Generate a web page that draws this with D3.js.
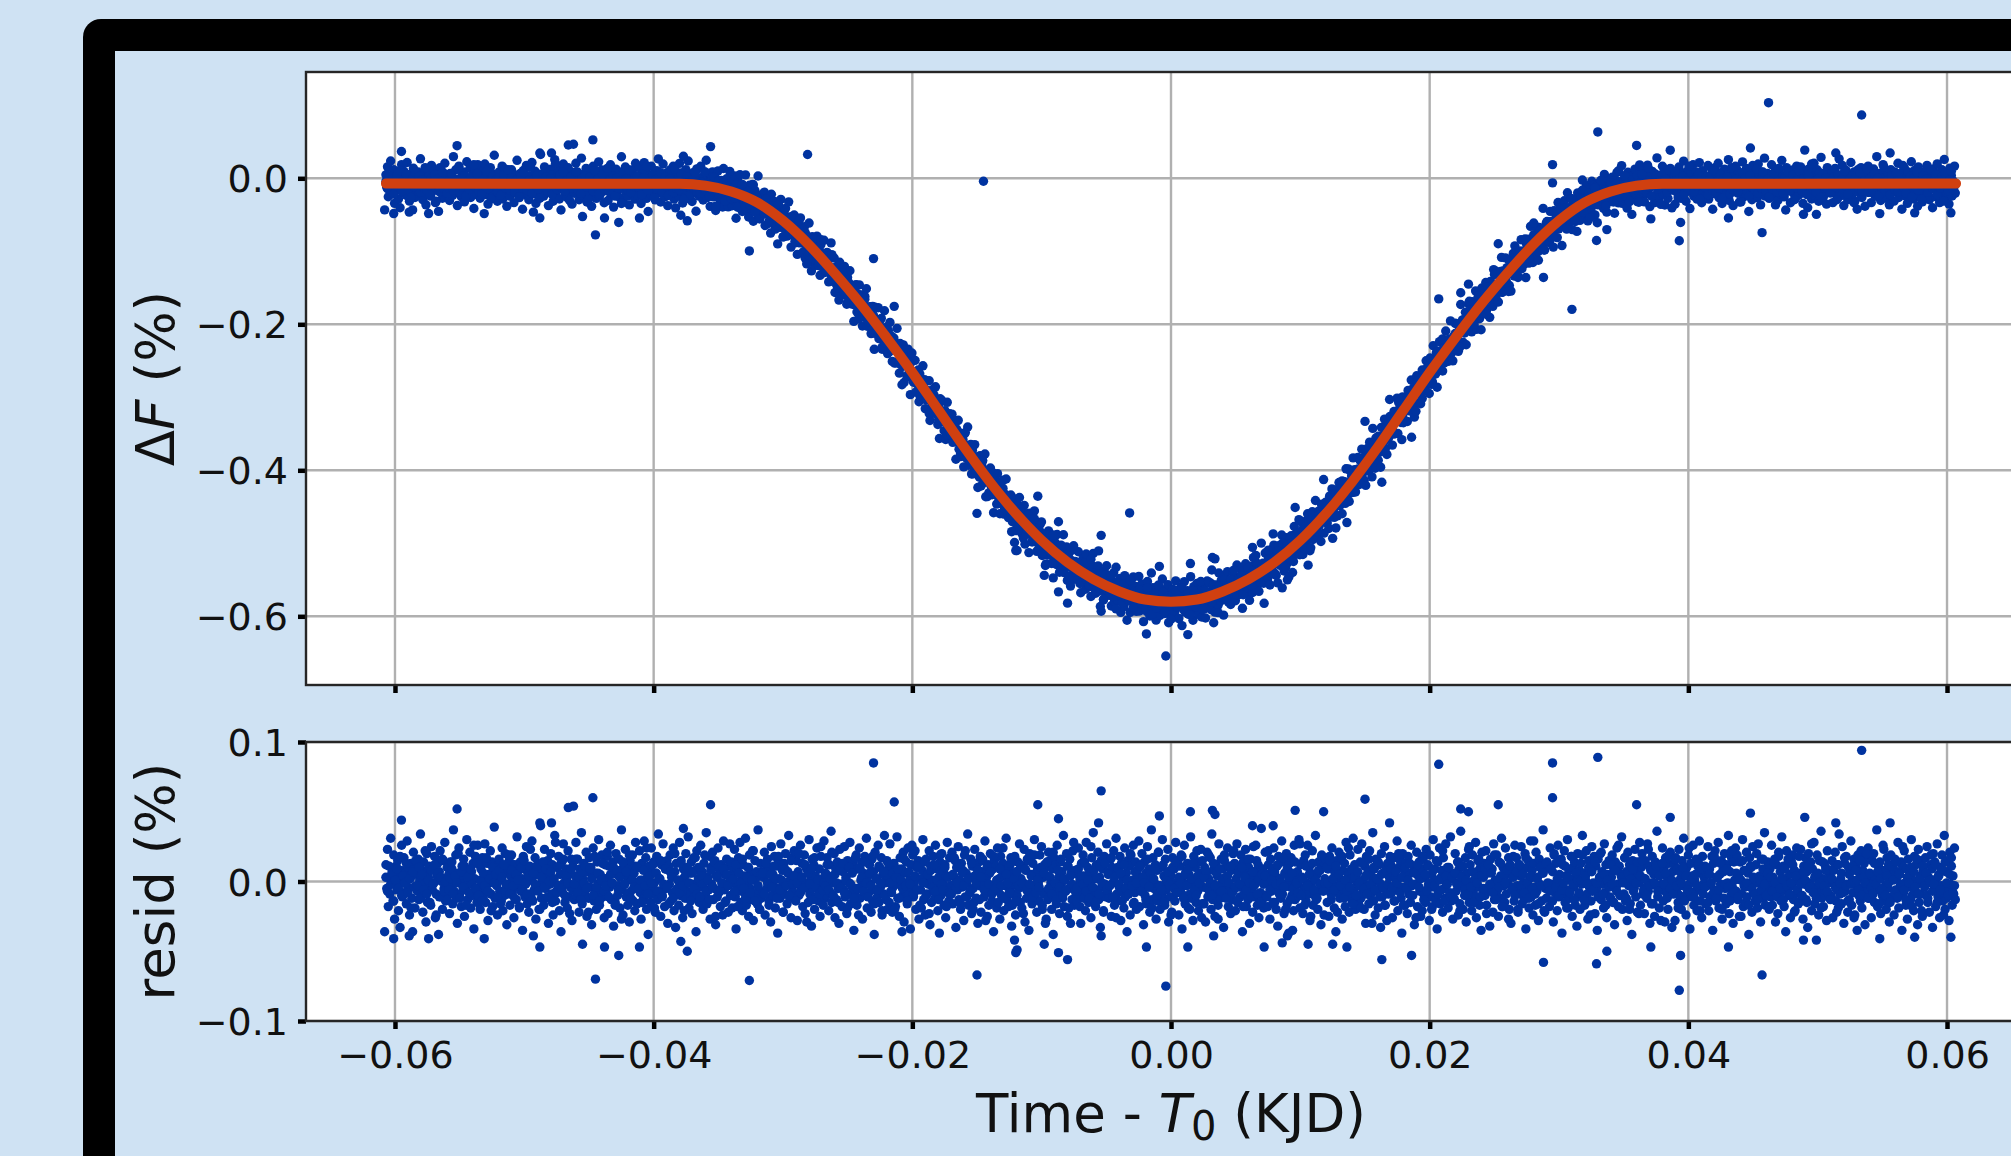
<!DOCTYPE html>
<html>
<head>
<meta charset="UTF-8"/>
<style>
  body { margin: 0; background: #cfe2f3; }
  svg { display: block; }
</style>
</head>
<body>
<script src="https://d3js.org/d3.v7.min.js"></script>
<script>
// ---- data ----
// x ticks (KJD from T0), y ticks of both panels
const xTicks = [-0.06, -0.04, -0.02, 0.00, 0.02, 0.04, 0.06];
const fluxTicks = [0.0, -0.2, -0.4, -0.6];
const residTicks = [0.1, 0.0, -0.1];

// fitted transit model (%)
const modelTime = [-0.0607, -0.038, -0.036, -0.034, -0.032, -0.030, -0.028, -0.026, -0.024, -0.022,
  -0.020, -0.018, -0.016, -0.014, -0.012, -0.010, -0.008, -0.006, -0.004, -0.002, 0.000,
  0.002, 0.004, 0.006, 0.008, 0.010, 0.012, 0.014, 0.016, 0.018, 0.020,
  0.022, 0.024, 0.026, 0.028, 0.030, 0.032, 0.034, 0.036, 0.038, 0.0607];
const modelFlux = [-0.0073, -0.0075, -0.010, -0.018, -0.033, -0.058, -0.091, -0.130, -0.172, -0.218,
  -0.266, -0.317, -0.368, -0.416, -0.459, -0.496, -0.526, -0.549, -0.566, -0.577, -0.580,
  -0.577, -0.566, -0.549, -0.526, -0.496, -0.459, -0.416, -0.368, -0.317, -0.266,
  -0.218, -0.172, -0.130, -0.091, -0.058, -0.033, -0.018, -0.010, -0.0075, -0.0073];

// residuals of two folded sets of regular-cadence samples, in units of 0.001 %
const tFirst = -0.0607;
const cadenceA = 0.0000607;
const residA = [
12,-5,23,-18,3,-9,31,-2,7,-14,19,-27,0,11,-6,15,-21,4,-33,8,26,-11,-1,17,-8,6,-16,29,-4,10,-24,2,13,-12,-36,21,5,-19,9,-3,
-7,16,-13,1,34,-10,8,-22,14,-2,6,-29,20,-15,3,11,-4,-17,25,-6,9,-1,18,-26,-9,4,13,-38,7,22,-11,0,-20,15,-5,28,-14,2,10,-8,
5,-23,14,-3,9,-16,37,-7,1,19,-12,-30,6,24,-9,3,-18,11,-2,16,-25,8,-6,30,-13,4,-1,21,-19,7,-10,13,-34,2,18,-5,-15,26,-8,12,
-20,9,-4,17,-11,2,27,-15,-6,13,-28,5,-1,22,-9,14,-18,3,39,-12,7,-3,-24,11,16,-7,1,-14,24,-21,6,-10,20,-2,-31,10,-5,15,-17,4,
19,-8,0,-26,12,5,-13,32,-4,8,-19,14,-7,2,-35,18,9,-11,-2,25,-16,6,-22,11,1,-9,29,-14,4,-6,17,-27,10,-3,13,-20,7,40,-12,-1,
8,-17,23,-5,-12,3,15,-30,6,-2,20,-9,12,-24,1,33,-14,-7,10,-3,18,-21,5,-36,14,-8,27,-1,-15,9,2,-19,22,-11,7,-4,16,-28,11,-6,
-13,4,28,-10,16,-1,-22,9,-6,35,-16,2,13,-8,-3,21,-25,7,-12,17,-4,10,-31,3,24,-14,-9,6,-20,14,-2,30,-17,5,-7,19,-11,1,-26,12,
2,-9,18,-23,11,-4,26,-13,-1,14,-32,7,-15,20,5,-10,-3,16,-19,8,37,-6,-24,12,-2,23,-11,4,-17,9,-29,15,-7,1,19,-14,6,-21,28,-5,
-16,10,-3,22,-8,-27,13,1,-12,29,-6,17,-20,3,-38,11,8,-15,24,-4,-9,14,-1,-22,6,18,-13,34,-7,2,-25,12,-10,27,-3,-18,9,-5,15,-30,
11,-2,19,-14,5,-8,24,-21,7,-33,13,-5,1,-17,28,-10,15,-3,-26,9,3,-12,20,-7,-1,32,-19,6,-9,14,-23,-2,17,-11,8,-36,22,-4,10,-15,
-4,26,-12,7,-20,13,1,-9,35,-16,3,-6,18,-27,10,-2,21,-13,-5,15,-31,4,-11,24,-8,8,-18,12,-1,-24,29,-6,5,-14,16,-3,-22,11,2,-10,
14,-19,6,-1,23,-11,-34,9,-7,17,-3,28,-15,2,-21,12,-8,4,31,-17,-2,10,-25,19,-5,6,-13,22,-28,1,15,-9,3,-16,37,-6,-20,13,-12,7,
-8,3,21,-24,12,-5,16,-1,-14,9,-29,25,-10,5,-3,18,-19,11,-6,-37,14,2,-12,27,-4,8,-22,13,-9,20,-2,-16,6,33,-11,1,-26,17,-7,4,
22,-13,-2,15,-28,7,-10,3,26,-6,13,-18,-1,19,-23,10,-4,8,-15,30,-9,1,-32,16,-5,12,-20,4,-11,24,-3,-14,9,-25,18,-7,2,-17,29,-12,
6,-10,17,-3,-21,12,-8,36,-15,4,-1,20,-26,9,-13,14,-5,-30,23,-2,11,-18,7,-6,25,-11,3,-23,15,-9,-1,28,-16,8,-4,13,-35,10,-7,19,
-17,9,-5,24,-12,1,14,-27,6,-3,18,-10,31,-19,4,-8,12,-2,-22,16,-14,7,-38,21,-6,2,-11,26,-15,10,-4,17,-24,5,-9,33,-1,-13,8,-20,
3,-15,27,-7,11,-22,-4,13,-1,-18,8,32,-12,5,-25,17,-3,9,-10,21,-29,6,-2,14,-16,24,-8,1,-34,12,-5,19,-11,-1,22,-20,10,-6,15,-27,
13,-6,-19,8,30,-13,2,-24,16,-9,5,-2,22,-31,11,-15,1,18,-7,-12,26,-4,9,-21,3,-37,14,-10,20,-1,7,-17,12,-26,4,28,-8,-14,17,-3,
-9,21,-16,4,-2,15,-33,10,-6,25,-13,1,-20,13,-4,8,-28,19,-11,6,-1,34,-17,3,-8,16,-23,11,-5,-15,23,2,-12,9,-30,14,-3,18,-22,7,
16,-1,-11,29,-8,3,-25,12,-17,6,20,-4,-14,9,-36,15,-2,11,-19,24,-7,2,-27,18,-10,4,13,-21,8,-3,31,-13,1,-18,10,-6,17,-32,5,-9,
-2,18,-24,7,-10,14,-5,27,-15,2,-19,11,-1,23,-29,8,-12,16,-4,-35,20,-8,5,-16,13,-3,30,-11,6,-22,9,-1,-14,19,-7,25,-20,3,-9,12,
10,-27,4,-13,21,-6,15,-1,-20,9,-38,17,-4,12,-16,26,-9,3,-23,14,-2,7,-12,33,-18,1,-7,20,-25,11,-5,16,-30,6,-13,22,-3,-17,8,-10,
-14,5,24,-9,1,-30,13,-6,19,-12,4,-21,28,-3,10,-15,6,-1,-26,17,-10,35,-5,2,-18,12,-8,21,-13,3,-33,15,-4,9,-22,18,-2,-11,27,-7,
7,-12,-3,16,-25,10,-1,22,-17,5,31,-9,-14,8,-4,18,-28,13,-7,2,-19,24,-11,6,-36,15,-2,11,-24,19,-6,1,26,-15,-8,14,-20,4,-3,29,
-18,11,-7,20,-2,-31,14,-10,6,-16,25,-4,9,-22,2,37,-13,17,-5,-1,12,-27,8,-14,21,-3,-20,10,-9,30,-12,4,-17,16,-6,-1,23,-29,7,-11,
4,-22,17,-1,9,-14,28,-8,-3,15,-24,11,-6,19,-34,3,-10,26,-16,7,-2,13,-19,5,-9,32,-12,1,-28,18,-4,10,-15,22,-7,-21,14,-1,6,-26,
15,-4,-16,10,-29,6,21,-11,2,-7,17,-20,34,-13,8,-2,-25,12,-8,4,-17,27,-5,-12,16,-1,9,-33,19,-10,3,-6,24,-18,11,-3,-23,8,-13,20,
-6,13,-21,2,27,-15,8,-4,-11,19,-2,-36,14,-9,5,23,-18,1,-13,10,-30,16,-6,3,-22,25,-11,7,-1,15,-17,12,-26,4,-8,38,-14,9,-19,1,
21,-10,5,-18,12,-1,-27,16,-7,9,-3,24,-15,4,-20,11,-32,18,-5,2,-12,29,-9,14,-23,6,-2,20,-16,8,-37,13,-4,17,-10,1,-21,26,-13,3,
-11,7,-2,30,-19,12,-8,3,-23,15,-5,19,-14,-1,26,-9,10,-28,6,-4,22,-17,1,-10,33,-13,5,-20,14,-7,8,-31,18,-3,11,-24,2,16,-6,-15,
9,-25,18,-4,-13,24,-2,10,-19,6,-36,15,-8,3,21,-12,-1,17,-27,8,-6,13,-18,28,-3,-11,5,-22,19,-9,2,-15,31,-7,12,-20,4,-1,23,-16,
-3,14,-12,27,-8,1,-20,11,-30,18,-5,7,-16,22,-10,4,-2,35,-14,9,-24,16,-7,2,-19,12,-1,-33,20,-11,6,-5,25,-17,10,-28,13,-9,3,18,
12,-8,-26,5,17,-14,3,-1,29,-21,10,-6,15,-12,-37,20,-4,8,-17,13,2,-23,18,-9,6,-15,26,-3,-10,11,-31,7,-2,21,-18,4,14,-7,-25,9,
-21,16,-9,3,-15,23,-6,12,-2,-28,19,-11,5,-18,30,-4,9,-13,1,-34,14,-7,24,-16,3,8,-22,17,-5,-12,27,-1,10,-19,6,-8,32,-14,2,-27,
5,-13,20,-7,-1,14,-24,9,-16,36,-3,11,-20,4,-10,17,-29,6,-2,23,-15,12,-6,-21,19,-8,1,-11,28,-26,7,15,-4,-17,10,-35,21,-9,3,13,
-10,22,-17,6,-5,11,-32,16,-2,9,-22,27,-13,1,-8,19,-6,-25,14,-12,4,31,-18,10,-3,-15,24,-9,5,-1,17,-20,12,-30,8,-4,18,-14,26,-7,
17,-3,-22,12,-9,4,25,-16,7,-1,-13,20,-34,10,-6,15,-19,2,29,-11,8,-24,13,-4,-17,21,-7,3,-28,16,-2,11,-14,6,37,-21,9,-5,-12,14,
-5,10,-18,24,-2,-14,7,-29,19,-8,13,-1,-21,26,-11,5,-3,16,-37,12,-9,22,-15,4,-6,30,-19,8,-12,1,18,-25,10,-4,14,-17,3,-32,20,-10,
8,-20,13,-2,33,-12,6,-17,1,22,-9,-27,15,-4,10,-14,25,-7,-1,18,-23,11,-5,-35,16,-10,3,20,-13,7,-2,-19,27,-8,12,-26,5,-1,15,-11,
-12,3,19,-15,8,-31,14,-6,24,-2,-18,11,-10,5,32,-20,1,-9,17,-14,7,-28,21,-3,12,-16,6,-38,15,-7,2,23,-11,9,-22,4,-1,28,-17,10,
20,-9,2,-23,15,-4,-12,27,-7,11,-30,8,-1,18,-16,5,-25,14,-3,36,-11,6,-19,12,-6,-2,24,-14,9,-29,17,-8,3,-20,13,-5,21,-1,-33,7,
-1,12,-28,17,-6,9,-15,23,-10,2,-20,15,-3,31,-13,7,-24,10,-8,19,-2,-34,13,-11,4,26,-17,1,-7,16,-21,11,-4,29,-14,6,-26,18,-9,3,
11,-16,6,-3,25,-21,9,-11,-1,18,-35,13,-6,22,-14,3,-9,28,-19,5,-2,15,-27,8,-12,20,-5,-16,12,-1,33,-23,7,-10,17,-4,-30,14,-7,24,
-7,19,-13,4,-25,14,1,-9,30,-18,8,-4,-15,21,-11,6,-38,17,-3,10,-22,25,-8,2,-14,12,-1,-19,27,-10,4,-29,16,-6,9,-12,35,-17,1,-5,
14,-2,-20,9,-11,26,-17,3,-6,16,-29,12,-1,-23,18,-9,7,-14,32,-4,11,-18,2,-36,22,-7,13,-10,5,-26,15,-3,19,-13,8,-21,1,24,-8,-16,
-15,6,23,-10,3,-27,11,-2,17,-13,7,-33,20,-5,-1,14,-21,9,-7,28,-16,4,-11,19,-3,-24,15,-8,36,-12,2,-18,13,-6,10,-28,22,-1,-9,5,
3,-11,15,-26,8,-1,21,-14,-6,12,-19,34,-9,2,-16,25,-4,-30,13,-7,18,-2,-22,10,-13,7,29,-17,1,-8,16,-24,11,-3,-35,19,-10,6,-14,22,
-19,8,-4,13,-31,18,-7,1,24,-12,5,-2,-26,15,-9,20,-15,3,-1,37,-18,11,-6,14,-23,4,-10,26,-14,8,-3,-20,17,-5,12,-29,2,19,-11,6,
10,-24,16,-6,2,-12,28,-19,7,-3,14,-35,11,-8,22,-1,-17,9,-27,16,-4,6,-13,30,-10,1,-21,18,-7,12,-2,-31,23,-15,4,-9,15,-25,8,-1,
-4,17,-10,25,-15,3,-22,12,-1,9,-33,20,-6,14,-18,2,27,-11,5,-26,10,-3,19,-14,-8,33,-20,7,-12,15,-5,-28,21,-2,11,-17,4,-9,24,-13
];
const cadenceB = 0.0001214;
const residB = [
3,-7,11,-2,6,-14,1,9,-5,18,-10,4,-1,13,-8,2,-19,7,-4,15,-3,10,-12,5,-6,22,-9,1,-15,8,-2,12,-24,6,-11,3,16,-7,0,-13,
-6,2,14,-9,4,-1,20,-12,7,-4,11,-17,3,-8,9,-2,26,-5,13,-10,1,-14,6,-3,17,-7,2,-21,10,-1,5,-11,8,-16,3,12,-6,-2,19,-9,
8,-3,-12,5,1,-18,10,-6,15,-1,-9,4,23,-13,6,-2,11,-7,-20,3,14,-4,9,-11,0,7,-15,2,28,-8,-3,12,-5,16,-10,4,-1,-23,9,-6,
-2,16,-8,3,-13,7,-1,11,-5,-22,9,2,-10,18,-4,6,-14,1,13,-7,-3,21,-11,5,-1,10,-17,8,-6,3,-27,14,-2,7,-9,19,-12,1,-4,11,
10,-5,1,-15,8,-3,24,-9,4,-1,12,-19,6,-7,2,15,-11,-2,9,-4,-16,7,3,-12,20,-6,1,-8,13,-3,-21,5,10,-1,-14,6,-5,17,-9,2,
-11,4,-2,19,-7,1,-13,8,-4,14,-25,3,11,-6,-1,9,-15,5,-3,27,-10,2,-7,12,-18,6,-1,16,-5,-12,3,10,-8,1,22,-14,7,-3,-20,5,
6,-9,13,-1,-17,5,-4,11,2,-12,18,-6,1,-22,9,-3,7,-10,15,-2,4,-14,-1,20,-8,3,-5,12,-29,6,-2,9,-13,17,-4,1,-9,25,-6,-1,
-3,12,-6,2,21,-10,5,-1,-15,8,-4,13,-8,1,-19,10,-2,6,-12,17,-5,-24,9,3,-7,14,-1,-11,6,-3,18,-16,2,-6,11,-1,-21,7,-10,15,
13,-1,-8,6,-20,3,9,-12,1,-5,16,-3,-14,7,-2,26,-9,4,-6,11,-17,2,-1,14,-10,5,-23,8,-4,12,-7,1,-13,19,-2,-6,10,-18,3,-8,
-9,5,17,-4,-1,10,-16,6,-3,22,-11,2,-7,13,-20,4,-1,8,-13,3,15,-6,-28,11,-2,7,-9,18,-5,1,-15,9,-3,24,-12,5,-1,-8,13,-17,
2,-14,7,-3,12,-1,-23,9,-6,15,-2,4,-11,19,-8,1,-4,10,-17,6,-30,14,-5,3,-9,21,-1,-13,8,-4,16,-10,2,-6,11,-19,4,-2,28,-7,
-5,9,-18,4,-2,14,-7,1,-12,25,-4,8,-15,2,-9,11,-1,-21,13,-6,5,-3,17,-11,3,-26,10,-2,6,-14,12,-5,1,-9,20,-3,-16,7,-1,9,
11,-7,3,-1,-13,16,-4,6,-19,2,9,-10,21,-3,-6,12,-15,1,7,-2,-24,10,-5,14,-8,3,-1,18,-12,5,-3,9,-20,2,13,-6,-10,4,-1,23,
-16,3,8,-5,19,-1,-10,13,-3,6,-27,9,-7,2,15,-12,4,-1,11,-8,22,-4,-14,6,-2,10,-18,3,-6,16,-1,-11,7,-3,26,-9,1,-15,5,-2,
4,-11,22,-6,1,-15,7,-2,12,-9,-1,17,-4,-20,9,3,-13,6,-5,14,-1,-8,27,-10,2,-17,11,-3,5,-25,13,-6,1,-12,8,-2,19,-7,-1,10,
-1,15,-9,2,-6,11,-22,5,-3,18,-12,1,-7,24,-4,9,-16,3,-10,7,-1,-19,13,-5,4,-9,16,-2,-30,10,-6,2,14,-11,5,-4,-17,8,-2,12,
9,-4,-14,7,-1,20,-8,3,-17,10,-5,1,13,-10,-2,6,-26,12,-4,2,18,-13,5,-7,11,-1,-20,8,-3,15,-9,1,-6,22,-14,4,-2,10,-11,3,
-12,6,-2,14,-21,3,11,-6,1,-9,25,-4,7,-15,2,-1,16,-11,4,-5,9,-23,12,-2,6,-8,19,-13,1,-4,13,-18,5,-1,8,-27,11,-6,3,-10,
7,-20,12,-3,5,-8,17,-1,-12,4,-5,29,-9,2,-16,10,-3,6,-22,13,-1,-7,9,-14,20,-4,2,-10,15,-6,-1,11,-19,3,-8,18,-2,-13,6,1,
-8,1,19,-13,4,-2,10,-24,7,-6,14,-1,-11,3,21,-9,5,-17,1,-4,12,-2,-15,8,-7,26,-10,3,-1,17,-12,6,-20,2,9,-5,-1,14,-23,4,
15,-6,2,-10,23,-3,-16,8,-1,11,-7,4,-28,13,-2,6,-12,19,-5,1,-9,16,-3,-19,7,-1,10,-14,4,-6,24,-8,2,-11,5,-3,13,-21,9,-2,
-4,10,-15,5,-1,-9,18,-12,3,-6,13,-20,7,-2,9,-4,-14,22,-8,1,6,-11,2,-25,15,-3,8,-1,-17,11,-5,3,-9,20,-13,1,-6,16,-2,-10,
6,-18,3,-7,14,-1,-11,21,-5,2,-13,9,-3,16,-9,-1,12,-22,4,-6,18,-2,-10,7,1,-15,11,-4,27,-8,3,-12,6,-1,-19,14,-3,8,-7,2,
-13,2,9,-4,-22,12,-1,6,-8,17,-3,-14,5,-2,11,-26,8,1,-6,15,-10,3,-1,20,-12,6,-4,-9,13,-2,7,-16,2,-5,23,-10,4,-1,-15,11,
1,-8,14,-11,5,-2,25,-6,-13,3,-1,10,-18,7,-4,16,-9,2,-21,11,-3,6,-12,1,19,-7,-2,12,-15,4,-6,9,-24,14,-1,-10,5,17,-8,-3
];

// stray samples: [time, residual in 0.001 %]
const outliers = [
  [-0.0608, -36], [-0.0601, -41], [-0.0595, 44], [-0.0589, -39], [-0.0574, -41], [-0.0552, 52],
  [-0.0531, -41], [-0.0493, -39], [-0.0488, -47], [-0.0488, 42], [-0.0479, 42], [-0.0466, 53],
  [-0.0462, 54], [-0.0455, -45], [-0.0447, 60], [-0.0445, -70], [-0.0438, -47], [-0.0427, -53],
  [-0.0411, -47], [-0.0379, -43], [-0.0377, 38], [-0.0374, -50], [-0.0356, 55], [-0.0326, -71],
  [-0.0281, 122], [-0.0230, 85], [-0.0214, 57], [-0.0208, -36], [-0.0150, -67], [-0.0145, 400],
  [-0.0121, -42], [-0.0120, -51], [-0.0119, -49], [-0.0103, 55], [-0.0098, -45], [-0.0087, 45],
  [-0.0087, -51], [-0.0080, -56], [-0.0056, 42], [-0.0054, 65], [-0.0054, -39], [-0.0032, 112],
  [-0.0019, -47], [-0.0009, 47], [-0.0004, -75], [0.0013, -47], [0.0015, 50], [0.0032, 51],
  [0.0033, -39], [0.0034, 48], [0.0063, 40], [0.0072, -47], [0.0079, 40], [0.0086, -44],
  [0.0090, -39], [0.0094, -35], [0.0096, 51], [0.0106, -45], [0.0118, 50], [0.0125, -45],
  [0.0136, -47], [0.0150, 59], [0.0163, -56], [0.0169, 42], [0.0186, -53], [0.0207, 84],
  [0.0224, 52], [0.0230, 50], [0.0253, 55], [0.0288, -58], [0.0295, 85], [0.0295, 60],
  [0.0310, -134], [0.0329, -59], [0.0330, 89], [0.0337, -50], [0.0360, 55], [0.0371, -47],
  [0.0386, 46], [0.0393, -78], [0.0394, -53], [0.0431, -47], [0.0448, 49], [0.0457, -67],
  [0.0462, 111], [0.0489, -42], [0.0490, 46], [0.0499, -42], [0.0514, 42], [0.0534, 94],
  [0.0548, -41], [0.0556, 42], [0.0575, -40], [0.0603, -40]
];

// ---- layout ----
const W = 2011, H = 1156;
const bg = "#cfe2f3", dotColor = "#0033a0", lineColor = "#d04010";
const gridColor = "#b0b0b0", font = "DejaVu Sans";
const dotR = 4.7;

const svg = d3.select("body").append("svg")
  .attr("width", W).attr("height", H);

svg.append("rect").attr("width", W).attr("height", H).attr("fill", bg);
// black frame running off the right and bottom edges
svg.append("rect").attr("x", 83).attr("y", 19).attr("width", 2200).attr("height", 1400)
  .attr("rx", 18).attr("fill", "#000");
svg.append("rect").attr("x", 115).attr("y", 51).attr("width", 2200).attr("height", 1400)
  .attr("fill", bg);

const x = d3.scaleLinear().domain([-0.06688, 0.06688]).range([306, 2036]);
const yTop = d3.scaleLinear().domain([0.1456, -0.6941]).range([72, 685]);
const yBot = d3.scaleLinear().domain([0.1, -0.1]).range([742, 1021]);
const model = d3.scaleLinear().domain(modelTime).range(modelFlux);

const samples = residA.map((r, i) => [tFirst + i * cadenceA, r / 1000])
  .concat(residB.map((r, i) => [tFirst + i * cadenceB, r / 1000]))
  .concat(outliers.map(d => [d[0], d[1] / 1000]));

function panel(id, y, yTicks, showXLabels) {
  const [y0, y1] = y.range();
  const [x0, x1] = x.range();
  const g = svg.append("g");
  svg.append("clipPath").attr("id", id).append("rect")
    .attr("x", x0).attr("y", y0).attr("width", x1 - x0).attr("height", y1 - y0);
  g.append("rect").attr("x", x0).attr("y", y0).attr("width", x1 - x0).attr("height", y1 - y0)
    .attr("fill", "#fff");
  // grid
  g.selectAll(".vg").data(xTicks).enter().append("line")
    .attr("x1", d => x(d)).attr("x2", d => x(d)).attr("y1", y0).attr("y2", y1)
    .attr("stroke", gridColor).attr("stroke-width", 2.4);
  g.selectAll(".hg").data(yTicks).enter().append("line")
    .attr("x1", x0).attr("x2", x1).attr("y1", d => y(d)).attr("y2", d => y(d))
    .attr("stroke", gridColor).attr("stroke-width", 2.4);
  const plot = g.append("g").attr("clip-path", "url(#" + id + ")");

  // axes
  const ya = g.append("g").attr("transform", "translate(" + x0 + ",0)")
    .call(d3.axisLeft(y).tickValues(yTicks).tickSize(8).tickPadding(10).tickFormat(d3.format(".1f")));
  const xa = g.append("g").attr("transform", "translate(0," + y1 + ")")
    .call(d3.axisBottom(x).tickValues(xTicks).tickSize(8).tickPadding(12)
      .tickFormat(showXLabels ? d3.format(".2f") : ""));
  [ya, xa].forEach(a => {
    a.select(".domain").remove();
    a.selectAll(".tick line").attr("stroke", "#000").attr("stroke-width", 4.5);
    a.selectAll(".tick text").attr("font-size", 38).attr("font-family", font).attr("fill", "#111");
  });
  ya.selectAll(".tick text").attr("dy", "0.36em");
  return {g: g, plot: plot, box: [x0, y0, x1, y1]};
}

function spines(p) {
  const [x0, y0, x1, y1] = p.box;
  p.g.append("rect").attr("x", x0).attr("y", y0).attr("width", x1 - x0).attr("height", y1 - y0)
    .attr("fill", "none").attr("stroke", "#262626").attr("stroke-width", 2.4);
}

// top panel: data and model
const fluxPanel = panel("clipTop", yTop, fluxTicks, false);
fluxPanel.plot.selectAll("circle").data(samples).enter().append("circle")
  .attr("cx", d => x(d[0])).attr("cy", d => yTop(model(d[0]) + d[1]))
  .attr("r", dotR).attr("fill", dotColor);
fluxPanel.plot.append("path")
  .datum(modelTime.map((t, i) => [t, modelFlux[i]]))
  .attr("d", d3.line().x(d => x(d[0])).y(d => yTop(d[1])).curve(d3.curveMonotoneX))
  .attr("fill", "none").attr("stroke", lineColor).attr("stroke-width", 10)
  .attr("stroke-linecap", "round").attr("stroke-linejoin", "round");
spines(fluxPanel);

// bottom panel: residuals
const residPanel = panel("clipBot", yBot, residTicks, true);
residPanel.plot.selectAll("circle").data(samples).enter().append("circle")
  .attr("cx", d => x(d[0])).attr("cy", d => yBot(d[1]))
  .attr("r", dotR).attr("fill", dotColor);
spines(residPanel);

// axis titles
const yLab1 = svg.append("text")
  .attr("transform", "translate(174," + (72 + 685) / 2 + ") rotate(-90)")
  .attr("text-anchor", "middle").attr("font-family", font).attr("font-size", 53).attr("fill", "#111");
yLab1.append("tspan").text("Δ");
yLab1.append("tspan").attr("font-style", "italic").text("F");
yLab1.append("tspan").text(" (%)");

svg.append("text")
  .attr("transform", "translate(174," + (742 + 1021) / 2 + ") rotate(-90)")
  .attr("text-anchor", "middle").attr("font-family", font).attr("font-size", 53).attr("fill", "#111")
  .text("resid (%)");

const xLab = svg.append("text")
  .attr("x", x(0)).attr("y", 1132)
  .attr("text-anchor", "middle").attr("font-family", font).attr("font-size", 53).attr("fill", "#111");
xLab.append("tspan").text("Time - ");
xLab.append("tspan").attr("font-style", "italic").text("T");
xLab.append("tspan").attr("font-size", 40).attr("dy", 8).text("0");
xLab.append("tspan").attr("dy", -8).text(" (KJD)");
</script>
</body>
</html>
